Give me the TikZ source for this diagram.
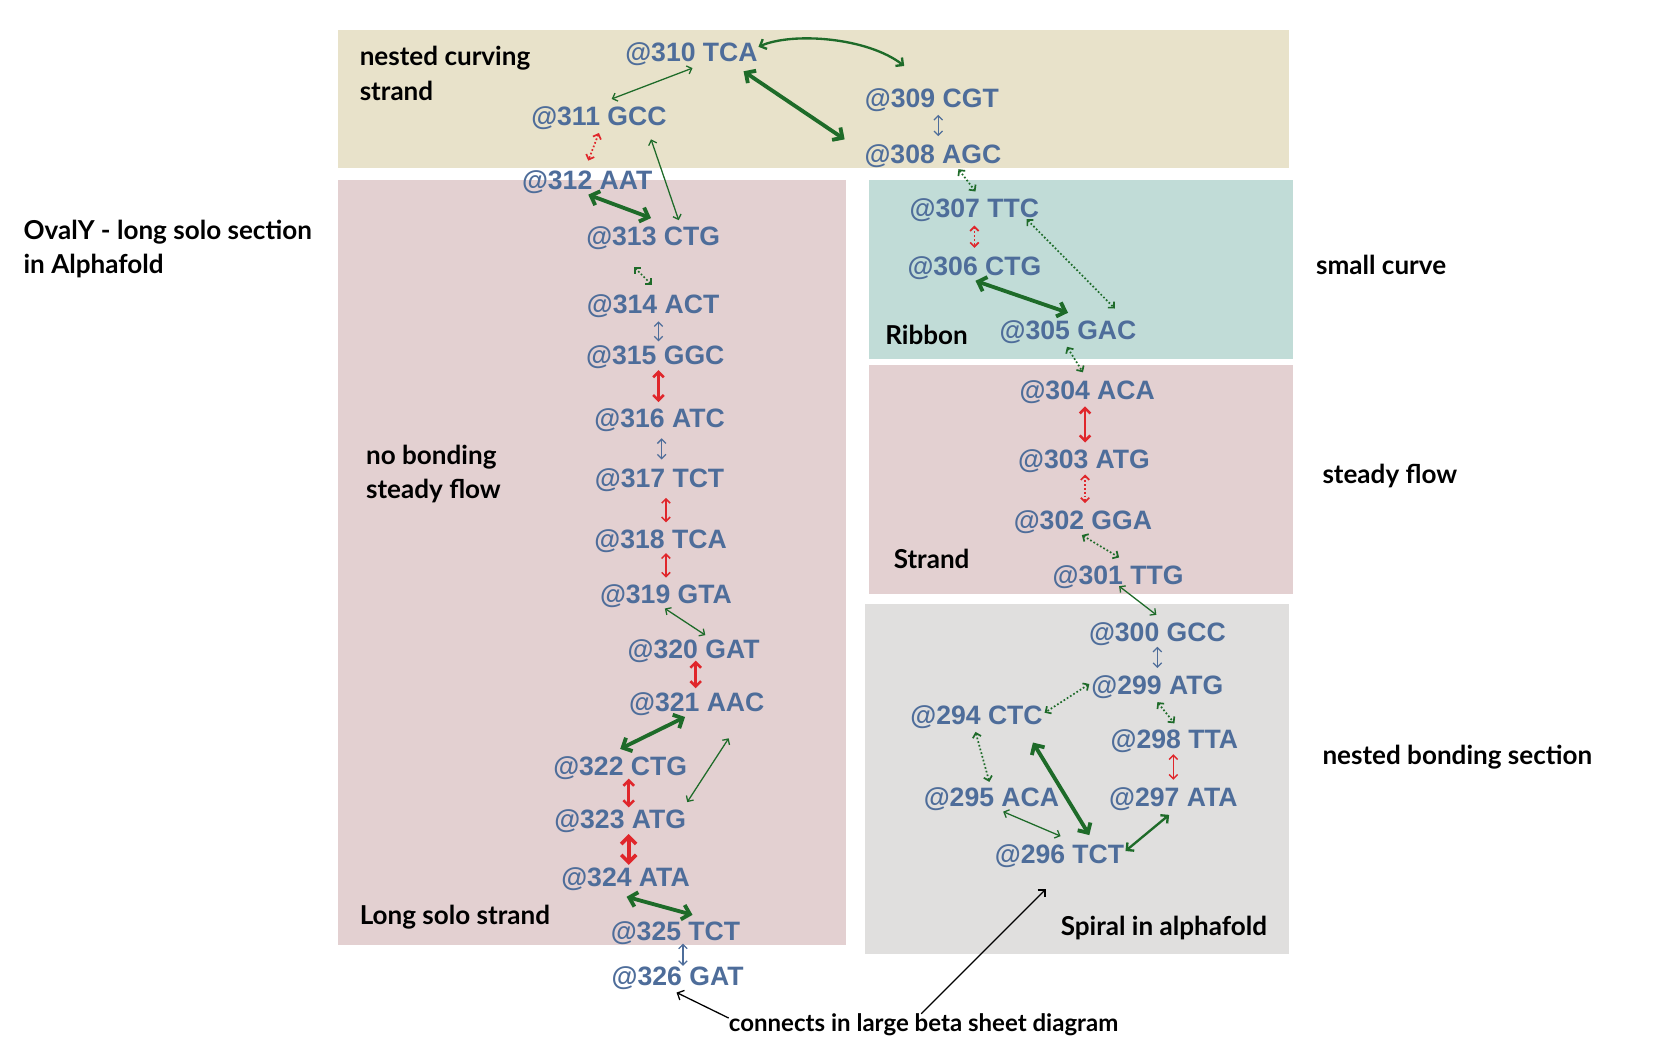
\documentclass[tikz,border=0pt]{standalone}
\usepackage{fontspec}
\setmainfont{Lato}
\newfontfamily\bluefont{Liberation Sans}
\usetikzlibrary{arrows.meta,calc}
\definecolor{tanbg}{HTML}{E8E2CA}
\definecolor{pinkbg}{HTML}{E3D0D1}
\definecolor{tealbg}{HTML}{C1DCD7}
\definecolor{graybg}{HTML}{E0DFDE}
\definecolor{resblue}{HTML}{4E6D9A}
\definecolor{bondgreen}{HTML}{1E6B29}
\definecolor{bondred}{HTML}{E0262B}
\tikzset{
  res/.style={font=\bluefont\bfseries\fontsize{25}{25}\selectfont, text=resblue, inner sep=0pt, text height=18pt, text depth=0pt},
  lbl/.style={font=\bfseries\fontsize{24.5}{32}\selectfont, text=black, inner sep=0pt, anchor=west, align=left},
  tipS/.style={arrows={Straight Barb[length=4pt,width=8pt]-Straight Barb[length=4pt,width=8pt]}},
  tipM/.style={arrows={Straight Barb[length=5pt,width=10pt]-Straight Barb[length=5pt,width=10pt]}},
  tipL/.style={arrows={Straight Barb[length=7pt,width=14pt]-Straight Barb[length=7pt,width=14pt]}},
  gthin/.style={draw=bondgreen, line width=1.2pt, tipS},
  gmed/.style={draw=bondgreen, line width=2.2pt, tipM},
  gthick/.style={draw=bondgreen, line width=3.6pt, tipL},
  gdot/.style={draw=bondgreen, line width=1.6pt, dotted, tipS},
  bthin/.style={draw=resblue, line width=1.2pt, tipS},
  rthin/.style={draw=bondred, line width=1.4pt, tipS},
  rmed/.style={draw=bondred, line width=2.4pt, tipM},
  rthick/.style={draw=bondred, line width=3.4pt, tipL},
  rdot/.style={draw=bondred, line width=1.6pt, dotted, tipS},
  pointer/.style={draw=black, line width=1.2pt, -{Straight Barb[length=5pt,width=10pt]}},
}
\begin{document}
\begin{tikzpicture}[x=1pt,y=-1pt]
\useasboundingbox (0,0) rectangle (1568,994);
% backgrounds
\fill[tanbg] (318,28) rectangle (1212,158);
\fill[pinkbg] (318,169) rectangle (795,888);
\fill[tealbg] (817,169) rectangle (1215,337);
\fill[pinkbg] (817,343) rectangle (1215,558);
\fill[graybg] (813,568) rectangle (1212,897);
% section labels
\node[lbl] (l1) at (338,69) {nested curving\\strand};
\node[lbl] (l2) at (22,234) {OvalY - long solo section\\in Alphafold};
\node[lbl] (l3) at (344,446) {no bonding\\steady flow};
\node[lbl] (l4) at (338,862) {Long solo strand};
\node[lbl] (l5) at (832,315) {Ribbon};
\node[lbl] (l6) at (1237,249) {small curve};
\node[lbl] (l7) at (840,525) {Strand};
\node[lbl] (l8) at (1243,447) {steady flow};
\node[lbl] (l9) at (1243,712) {nested bonding section};
\node[lbl] (l10) at (997,872) {Spiral in alphafold};
\node[lbl, font=\bfseries\fontsize{22.6}{30}\selectfont] (conn) at (685,963) {connects in large beta sheet diagram};
% residues
\node[res] (n310) at (650,49) {@310 TCA};
\node[res] (n309) at (876,92) {@309 CGT};
\node[res] (n308) at (877,145) {@308 AGC};
\node[res] (n311) at (563,109) {@311 GCC};
\node[res] (n312) at (552,169) {@312 AAT};
\node[res] (n313) at (614,222) {@313 CTG};
\node[res] (n314) at (614,286) {@314 ACT};
\node[res] (n315) at (616,334) {@315 GGC};
\node[res] (n316) at (620,393) {@316 ATC};
\node[res] (n317) at (620,449) {@317 TCT};
\node[res] (n318) at (621,507) {@318 TCA};
\node[res] (n319) at (626,558) {@319 GTA};
\node[res] (n320) at (652,610) {@320 GAT};
\node[res] (n321) at (655,660) {@321 AAC};
\node[res] (n322) at (583,720) {@322 CTG};
\node[res] (n323) at (583,770) {@323 ATG};
\node[res] (n324) at (588,824) {@324 ATA};
\node[res] (n325) at (635,875) {@325 TCT};
\node[res] (n326) at (637,917) {@326 GAT};
\node[res] (n307) at (916,195) {@307 TTC};
\node[res] (n306) at (916,250) {@306 CTG};
\node[res] (n305) at (1004,310) {@305 GAC};
\node[res] (n304) at (1022,367) {@304 ACA};
\node[res] (n303) at (1019,431) {@303 ATG};
\node[res] (n302) at (1018,489) {@302 GGA};
\node[res] (n301) at (1051,540) {@301 TTG};
\node[res] (n300) at (1088,594) {@300 GCC};
\node[res] (n299) at (1088,644) {@299 ATG};
\node[res] (n298) at (1104,695) {@298 TTA};
\node[res] (n297) at (1103,749) {@297 ATA};
\node[res] (n294) at (918,672) {@294 CTC};
\node[res] (n295) at (932,749) {@295 ACA};
\node[res] (n296) at (996,803) {@296 TCT};
% connectors
\draw[gthin] ($(n311)+(12,-16)$) -- ($(n310)+(1,15)$);
\draw[gthick] ($(n310)+(49,18)$) -- ($(n308)+(-83,-14)$);
\draw[gmed] ($(n310)+(63,-5)$) .. controls ($(n310)+(95,-19)$) and ($(n309)+(-61,-57)$) .. ($(n309)+(-26,-30)$);
\draw[bthin] ($(n309)+(6,16)$) -- ($(n308)+(5,-17)$);
\draw[rdot] ($(n311)+(0,16)$) -- ($(n312)+(1,-18)$);
\draw[gthin] ($(n311)+(49,22)$) -- ($(n313)+(24,-15)$);
\draw[gthick] ($(n312)+(1,14)$) -- ($(n313)+(-2,-17)$);
\draw[gdot] ($(n313)+(-18,29)$) -- ($(n314)+(-1,-18)$);
\draw[bthin] ($(n314)+(5,16)$) -- ($(n315)+(3,-13)$);
\draw[rmed] ($(n315)+(3,14)$) -- ($(n316)+(-1,-15)$);
\draw[bthin] ($(n316)+(2,19)$) -- ($(n317)+(2,-17)$);
\draw[rthin] ($(n317)+(6,19)$) -- ($(n318)+(5,-16)$);
\draw[rthin] ($(n318)+(5,13)$) -- ($(n319)+(0,-15)$);
\draw[gthin] ($(n319)+(-1,14)$) -- ($(n320)+(11,-13)$);
\draw[rmed] ($(n320)+(2,11)$) -- ($(n321)+(-1,-13)$);
\draw[gthick] ($(n321)+(-11,14)$) -- ($(n322)+(0,-16)$);
\draw[gthin] ($(n321)+(30,34)$) -- ($(n323)+(63,-16)$);
\draw[rmed] ($(n322)+(8,12)$) -- ($(n323)+(8,-11)$);
\draw[rthick] ($(n323)+(8,14)$) -- ($(n324)+(3,-11)$);
\draw[gthick] ($(n324)+(1,19)$) -- ($(n325)+(16,-15)$);
\draw[bthin] ($(n325)+(7,12)$) -- ($(n326)+(5,-9)$);
\draw[gdot] ($(n308)+(24,14)$) -- ($(n307)+(1,-15)$);
\draw[rdot] ($(n307)+(0,17)$) -- ($(n306)+(0,-17)$);
\draw[gdot] ($(n307)+(49,11)$) -- ($(n305)+(44,-20)$);
\draw[gthick] ($(n306)+(1,14)$) -- ($(n305)+(0,-16)$);
\draw[gdot] ($(n305)+(-1,16)$) -- ($(n304)+(-4,-17)$);
\draw[rmed] ($(n304)+(-2,15)$) -- ($(n303)+(1,-15)$);
\draw[rdot] ($(n303)+(1,15)$) -- ($(n302)+(2,-16)$);
\draw[gdot] ($(n302)+(-1,14)$) -- ($(n301)+(1,-16)$);
\draw[gthin] ($(n301)+(1,11)$) -- ($(n300)+(-1,-16)$);
\draw[bthin] ($(n300)+(0,14)$) -- ($(n299)+(0,-16)$);
\draw[gdot] ($(n299)+(-64,-1)$) -- ($(n294)+(64,-2)$);
\draw[gdot] ($(n299)+(0,16)$) -- ($(n298)+(0,-15)$);
\draw[rthin] ($(n298)+(-1,14)$) -- ($(n297)+(0,-16)$);
\draw[gdot] ($(n294)+(-1,16)$) -- ($(n295)+(-2,-14)$);
\draw[gthick] ($(n294)+(53,26)$) -- ($(n296)+(28,-18)$);
\draw[gthin] ($(n295)+(11,14)$) -- ($(n296)+(1,-17)$);
\draw[gmed] ($(n297)+(-4,17)$) -- ($(n296)+(62,-3)$);
% pointers
\coordinate (spiraltip) at (983,836);
\draw[pointer] ($(conn.west)+(0,-6)$) -- ($(n326)+(-1,16)$);
\draw[pointer] ($(conn.west)+(181,-10)$) -- (spiraltip);
\end{tikzpicture}
\end{document}
